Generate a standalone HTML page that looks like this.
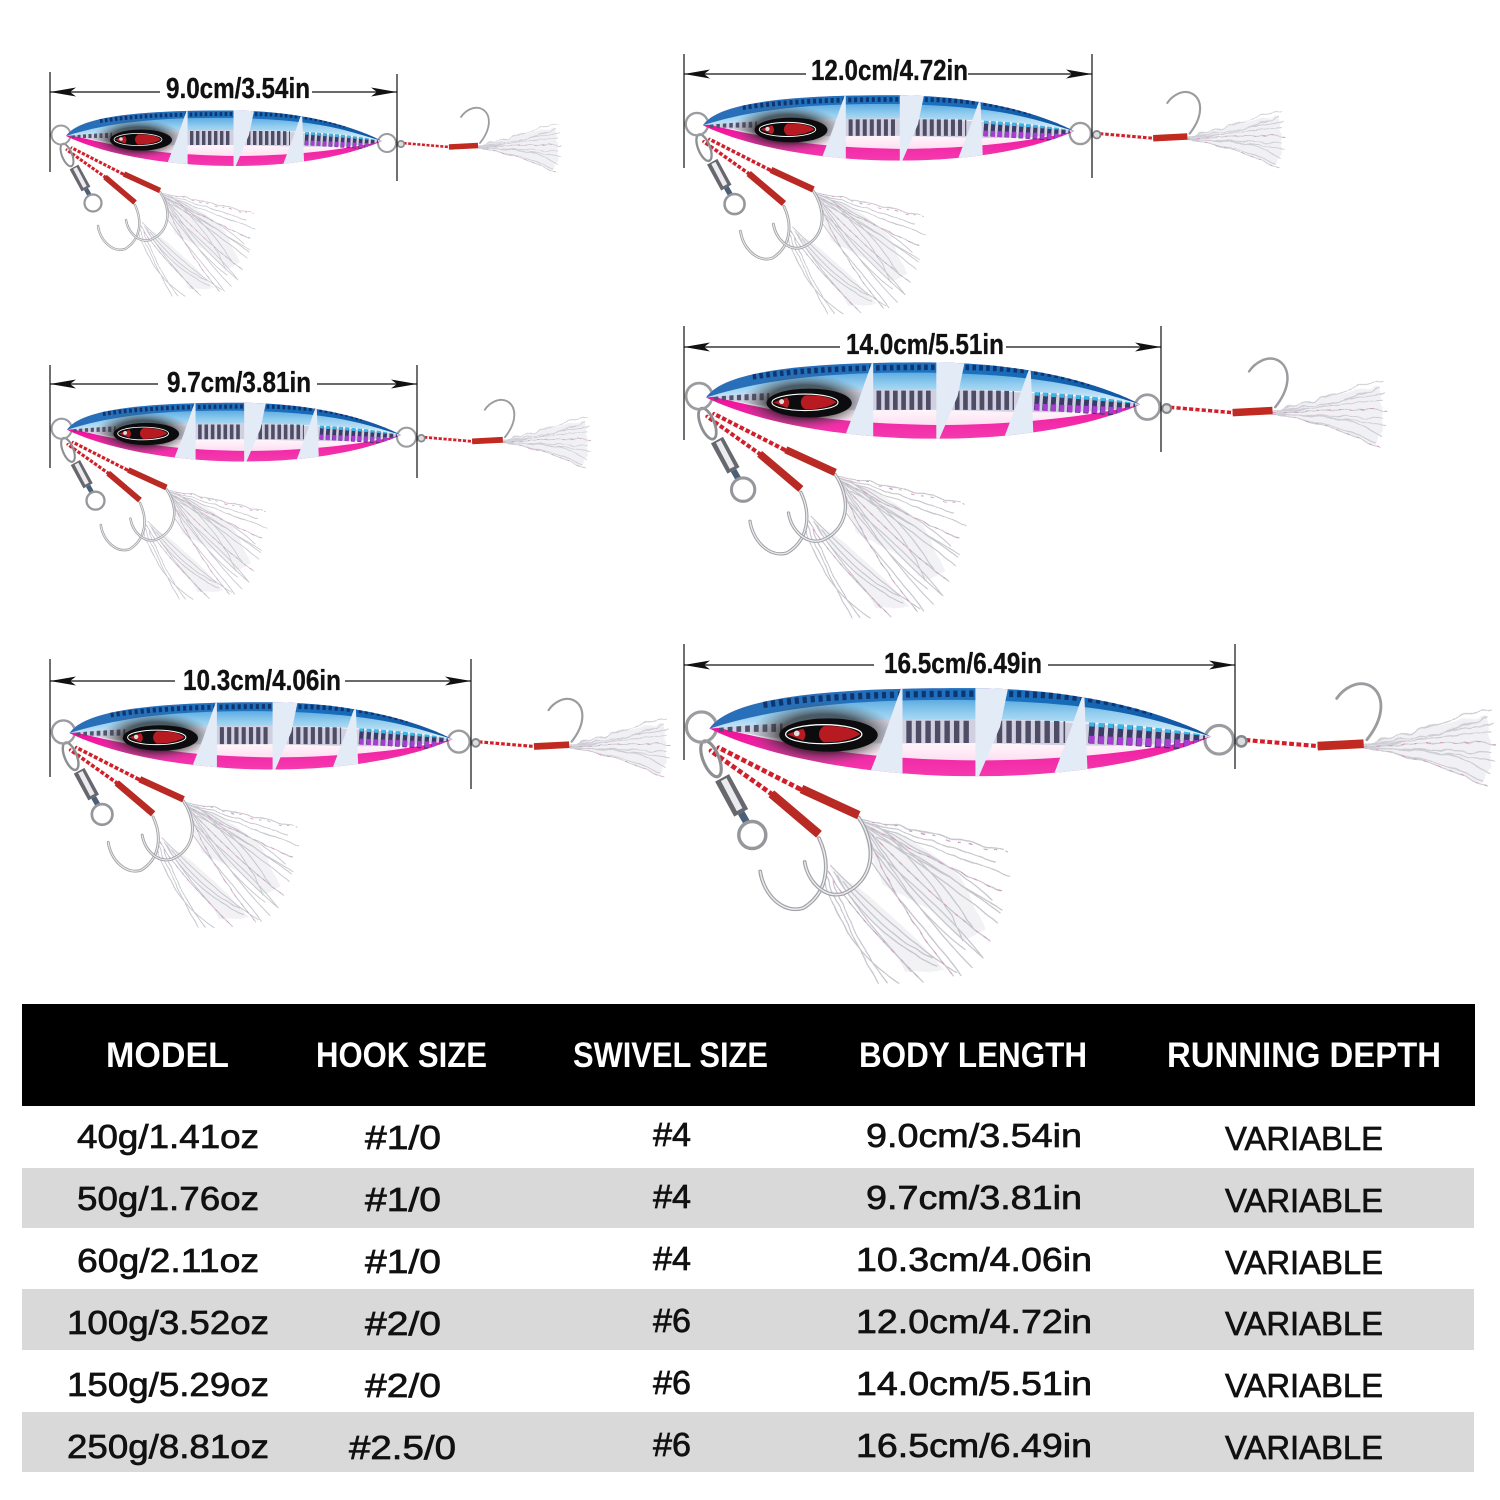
<!DOCTYPE html>
<html><head><meta charset="utf-8"><style>html,body{margin:0;padding:0;background:#fff}svg{display:block}</style></head><body>
<svg xmlns="http://www.w3.org/2000/svg" width="1500" height="1500" viewBox="0 0 1500 1500">
<defs>
<clipPath id="bc"><path d="M66,136C78,118 130,110 233,110.5C290,111 345,122 382,141C350,155 300,166 233,166C170,166 105,155 66,136Z"/></clipPath>
<linearGradient id="wh" x1="0" y1="0" x2="0" y2="1"><stop offset="0" stop-color="#e6e6f0"/><stop offset=".72" stop-color="#fff"/><stop offset="1" stop-color="#fde0f2"/></linearGradient>
<linearGradient id="pk" x1="0" y1="0" x2="0" y2="1"><stop offset="0" stop-color="#c9107e"/><stop offset=".45" stop-color="#ee129c"/><stop offset="1" stop-color="#f646b4"/></linearGradient>
<linearGradient id="lb" x1="0" y1="0" x2="0" y2="1"><stop offset="0" stop-color="#2f8fd6"/><stop offset=".5" stop-color="#8fcbee"/><stop offset="1" stop-color="#e2f2fb"/></linearGradient>
<linearGradient id="dk" x1="0" y1="0" x2="1" y2="0"><stop offset="0" stop-color="#2a6fb8"/><stop offset=".6" stop-color="#1a72c0"/><stop offset="1" stop-color="#0f55a0"/></linearGradient>
<radialGradient id="sm"><stop offset=".6" stop-color="#222" stop-opacity=".85"/><stop offset="1" stop-color="#666" stop-opacity="0"/></radialGradient>
<filter id="wv" x="-10%" y="-10%" width="120%" height="120%"><feTurbulence type="fractalNoise" baseFrequency=".09" numOctaves="2" seed="4" result="n"/><feDisplacementMap in="SourceGraphic" in2="n" scale="5"/></filter>
<g id="lure">
 <g fill="none" stroke-linecap="round">
  <!-- rear assist feathers -->
  <g filter="url(#wv)">
  <path d="M160,193L190,204 222,226 240,262 226,270 205,250 176,235 166,212Z" fill="#ededf1" stroke="none" opacity=".75"/>
  <path d="M142,224L165,240 196,268 214,288 190,290 172,262Z" fill="#ededf1" stroke="none" opacity=".7"/>
  <path d="M160,193C185,197 220,205 252,213M160,194C188,200 222,212 246,220M161,194C190,205 225,218 255,229M161,195C190,210 225,228 250,238M162,196C192,212 222,232 249,252M162,196C190,215 225,240 247,258M163,197C185,220 215,250 243,270M164,198C180,225 205,260 232,287M165,200C175,230 195,262 220,292M168,202C184,228 206,252 238,280M170,196C192,212 216,234 232,262M166,208C182,230 204,258 228,276M172,205C195,215 225,235 250,250M170,212C190,232 215,250 238,280M168,220C185,245 205,265 225,292M176,200C200,214 226,226 244,244M180,204C196,222 216,244 226,270M142,222C160,240 190,270 222,290M140,225C155,250 180,275 200,295M139,228C150,255 160,275 172,296M138,232C148,260 160,280 185,296M144,226C158,248 176,270 210,286M146,228C160,252 178,272 194,290M150,232C166,252 186,272 206,280M143,230C152,254 164,278 178,296" stroke="#c6c6cd" stroke-width=".8"/>
  <path d="M160,193C185,197 220,208 254,214M161,195C190,210 225,228 250,238M163,197C185,220 215,250 243,270M140,225C155,250 180,275 200,295M165,200C175,230 195,262 220,292" stroke="#d49fc4" stroke-width=".7" stroke-dasharray="2 6"/>
  </g>
  <!-- hooks -->
  <path d="M135,205C143,222 140,240 125,249C112,253 100,240 98,226" stroke="#a0a2a6" stroke-width="2.4"/>
  <path d="M135,205C143,222 140,240 125,249C112,253 100,240 98,226" stroke="#ececee" stroke-width=".9"/>
  <path d="M160,192C172,210 170,232 150,240C138,243 128,232 126,220" stroke="#a0a2a6" stroke-width="2.4"/>
  <path d="M160,192C172,210 170,232 150,240C138,243 128,232 126,220" stroke="#ececee" stroke-width=".9"/>
  <!-- braid -->
  <path d="M72,148L123,174M67,150L105,177" stroke="#d01f2a" stroke-width="3"/>
  <path d="M72,148L123,174M67,150L105,177" stroke="#fff" stroke-width="3" stroke-dasharray="1.6 3.2" stroke-linecap="butt"/>
  <!-- tubes -->
  <path d="M124,174L160,190.5M105,177L135,202.5" stroke="#b92a25" stroke-width="5.5" stroke-linecap="butt"/>
  <!-- swivel -->
  <ellipse cx="67" cy="155" rx="5" ry="12" transform="rotate(-22 67 155)" stroke="#8d8f93" stroke-width="2"/>
  <path d="M74,167L86,189" stroke="#66686e" stroke-width="10" stroke-linecap="butt"/>
  <path d="M75,168L85,187" stroke="#ececf0" stroke-width="4" stroke-linecap="butt"/>
  <path d="M86,189L90,196" stroke="#4a5f7a" stroke-width="4.5" stroke-linecap="butt"/>
  <circle cx="93" cy="203" r="8.5" stroke="#95979b" stroke-width="2.2"/>
  <circle cx="61" cy="135" r="9.5" stroke="#9a9ca0" stroke-width="2"/>
  <circle cx="387" cy="143" r="9" stroke="#9a9ca0" stroke-width="2"/>
 </g>
 <!-- body -->
 <g clip-path="url(#bc)">
  <rect x="60" y="105" width="330" height="70" fill="url(#pk)"/>
  <path d="M66,134C130,150 170,155 233,156C290,156 345,150 382,141L382,100L66,100Z" fill="url(#wh)"/>
  <path d="M70,135C120,129 180,129 233,130C290,131 345,135 382,141C345,150 290,146 233,145C180,145 120,148 70,135Z" fill="#d0d0e0"/>
  <path d="M72,134L112,134" stroke="#4e5470" stroke-width="8" stroke-dasharray="3 2.5" fill="none"/>
  <path d="M190,138L232,138M247,138L290,138" stroke="#4f4d66" stroke-width="14" stroke-dasharray="3.4 2.6" fill="none"/>
  <path d="M305,137L378,142" stroke="#3c3a66" stroke-width="16" stroke-dasharray="3.6 2.4" fill="none"/>
  <path d="M305,143L378,146" stroke="#a63ed0" stroke-width="5" stroke-dasharray="3.6 2.4" fill="none"/>
  <path d="M305,133L378,139" stroke="#39b6e6" stroke-width="3" stroke-dasharray="3.6 2.4" fill="none"/>
  <path d="M66,136C78,118 130,110 233,110.5C290,111 345,122 382,141C340,132 290,131 233,130C180,130 120,131 66,136Z" fill="url(#lb)"/>
  <path d="M66,136C78,118 130,110 233,110.5C290,111 345,122 382,141C345,130 320,120 233,118C160,117 110,122 66,136Z" fill="url(#dk)"/>
  <path d="M100,121C140,115 190,114 240,114C290,114 320,118 345,126" stroke="#0e356f" stroke-width="4" stroke-dasharray="2.6 2.4" fill="none"/>
  <ellipse cx="138" cy="139" rx="46" ry="20" fill="url(#sm)" opacity=".8"/>
  <path d="M187.6,108L187.6,170 167.8,162 176,141 184,118Z" fill="#e2ebf6"/>
  <path d="M233.5,108L254.6,108 249,135 234,170 233.5,170Z" fill="#e2ebf6"/>
  <path d="M302,112L304.4,170 281,170 293,138Z" fill="#e2ebf6"/>
 </g>
 <ellipse cx="141" cy="140" rx="31" ry="10.5" fill="#0c0c0e"/>
 <ellipse cx="138" cy="139.5" rx="24" ry="6" fill="#0c0c0e" stroke="#fff" stroke-width=".8"/>
 <path d="M138,134.5C150,134 157,136 161,139.5C155,143 148,144.6 138,144.6C134,142 134,137 138,134.5Z" fill="#b81a22"/>
 <path d="M115,139.5L125,136C127,139 127,141 125,143.5Z" fill="#b81a22"/>
 <circle cx="121" cy="139" r="1.8" fill="#ddd"/>
 <!-- tail -->
 <g fill="none" stroke-linecap="round">
  <g filter="url(#wv)">
  <path d="M478,147L520,134 556,128 558,160 552,170 518,156Z" fill="#efeff3" stroke="none" opacity=".85"/>
  <path d="M478,146C505,140 535,128 558,124M478,146C510,142 540,135 560,133M478,147C510,146 540,144 560,145M478,147C510,150 540,153 560,156M478,148C505,152 535,162 557,173M478,147C505,146 530,138 556,129M478,148C510,150 535,148 558,165M478,146C510,144 530,140 558,138M478,148C506,149 532,150 558,151M480,148C505,153 530,158 552,168" stroke="#cdcdd4" stroke-width=".8"/>
  <path d="M478,147C510,146 540,144 560,145M478,148C505,152 535,162 557,173" stroke="#d49fc4" stroke-width=".7" stroke-dasharray="2 6"/>
  </g>
  <path d="M480,143C492,128 491,114 482,109C474,105 465,111 461,117" stroke="#9a9ca0" stroke-width="1.8"/>
  <path d="M402,143L449,147" stroke="#d01f2a" stroke-width="2.6"/>
  <path d="M402,143L449,147" stroke="#fff" stroke-width="2.6" stroke-dasharray="1.6 3" stroke-linecap="butt"/>
  <circle cx="401" cy="144" r="3.2" stroke="#85878c" stroke-width="1.6" fill="#ddd"/>
  <path d="M449,147L478,145.5" stroke="#c12a20" stroke-width="5.5" stroke-linecap="butt"/>
 </g>
</g>
<g id="ah"><path d="M0,0L26,-4.5 20,0 26,4.5Z" fill="#111"/></g>
</defs>
<rect width="1500" height="1500" fill="#fff"/>

<!-- lures -->
<use href="#lure" transform="translate(50,140) scale(1) translate(-50,-140)"/>
<use href="#lure" transform="translate(684,130) scale(1.176) translate(-50,-140)"/>
<use href="#lure" transform="translate(50,434) scale(1.058) translate(-50,-140)"/>
<use href="#lure" transform="translate(684,403) scale(1.375) translate(-50,-140)"/>
<use href="#lure" transform="translate(50,738) scale(1.213) translate(-50,-140)"/>
<use href="#lure" transform="translate(684,735) scale(1.588) translate(-50,-140)"/>

<!-- dimensions -->
<g stroke="#111" stroke-width="1.2" fill="none">
<path d="M50,72V172M397,74V181M50,92H160M312,92H397"/>
<path d="M684,54V168M1092,54V178M684,74H806M968,74H1092"/>
<path d="M50,365V468M417,365V478M50,384H158M317,384H417"/>
<path d="M684,326V440M1161,326V452M684,347H840M1006,347H1161"/>
<path d="M50,659V777M471,659V789M50,681H175M345,681H471"/>
<path d="M684,644V760M1235,644V769M684,665H874M1048,665H1235"/>
</g>
<use href="#ah" x="50" y="92"/><use href="#ah" transform="translate(397,92) scale(-1,1)"/>
<use href="#ah" x="684" y="74"/><use href="#ah" transform="translate(1092,74) scale(-1,1)"/>
<use href="#ah" x="50" y="384"/><use href="#ah" transform="translate(417,384) scale(-1,1)"/>
<use href="#ah" x="684" y="347"/><use href="#ah" transform="translate(1161,347) scale(-1,1)"/>
<use href="#ah" x="50" y="681"/><use href="#ah" transform="translate(471,681) scale(-1,1)"/>
<use href="#ah" x="684" y="665"/><use href="#ah" transform="translate(1235,665) scale(-1,1)"/>
<g font-family="'Liberation Sans',sans-serif" font-weight="bold" font-size="29" fill="#111" stroke="#111" stroke-width=".35">
<text x="166" y="98" textLength="144" lengthAdjust="spacingAndGlyphs">9.0cm/3.54in</text>
<text x="811" y="80" textLength="157" lengthAdjust="spacingAndGlyphs">12.0cm/4.72in</text>
<text x="167" y="392" textLength="144" lengthAdjust="spacingAndGlyphs">9.7cm/3.81in</text>
<text x="846" y="354" textLength="158" lengthAdjust="spacingAndGlyphs">14.0cm/5.51in</text>
<text x="183" y="690" textLength="158" lengthAdjust="spacingAndGlyphs">10.3cm/4.06in</text>
<text x="884" y="673" textLength="158" lengthAdjust="spacingAndGlyphs">16.5cm/6.49in</text>
</g>

<!-- table -->
<rect x="22" y="1004" width="1453" height="102" fill="#000"/>
<rect x="22" y="1168" width="1452" height="60" fill="#d9d9d9"/>
<rect x="22" y="1289" width="1452" height="61" fill="#d9d9d9"/>
<rect x="22" y="1412" width="1452" height="60" fill="#d9d9d9"/>
<g font-family="'Liberation Sans',sans-serif" font-weight="bold" font-size="35" fill="#fff">
<text x="106" y="1067" textLength="123" lengthAdjust="spacingAndGlyphs">MODEL</text>
<text x="316" y="1067" textLength="171" lengthAdjust="spacingAndGlyphs">HOOK SIZE</text>
<text x="573" y="1067" textLength="195" lengthAdjust="spacingAndGlyphs">SWIVEL SIZE</text>
<text x="859" y="1067" textLength="228" lengthAdjust="spacingAndGlyphs">BODY LENGTH</text>
<text x="1167" y="1067" textLength="274" lengthAdjust="spacingAndGlyphs">RUNNING DEPTH</text>
</g>
<g font-family="'Liberation Sans',sans-serif" font-size="33" fill="#111" stroke="#111" stroke-width=".7">
<text x="77" y="1148" textLength="182" lengthAdjust="spacingAndGlyphs">40g/1.41oz</text>
<text x="77" y="1210" textLength="182" lengthAdjust="spacingAndGlyphs">50g/1.76oz</text>
<text x="77" y="1272" textLength="182" lengthAdjust="spacingAndGlyphs">60g/2.11oz</text>
<text x="67" y="1334" textLength="202" lengthAdjust="spacingAndGlyphs">100g/3.52oz</text>
<text x="67" y="1396" textLength="202" lengthAdjust="spacingAndGlyphs">150g/5.29oz</text>
<text x="67" y="1458" textLength="202" lengthAdjust="spacingAndGlyphs">250g/8.81oz</text>

<text x="365" y="1149" textLength="76" lengthAdjust="spacingAndGlyphs">#1/0</text>
<text x="365" y="1211" textLength="76" lengthAdjust="spacingAndGlyphs">#1/0</text>
<text x="365" y="1273" textLength="76" lengthAdjust="spacingAndGlyphs">#1/0</text>
<text x="365" y="1335" textLength="76" lengthAdjust="spacingAndGlyphs">#2/0</text>
<text x="365" y="1397" textLength="76" lengthAdjust="spacingAndGlyphs">#2/0</text>
<text x="349" y="1459" textLength="107" lengthAdjust="spacingAndGlyphs">#2.5/0</text>

<text x="653" y="1146" textLength="38" lengthAdjust="spacingAndGlyphs">#4</text>
<text x="653" y="1208" textLength="38" lengthAdjust="spacingAndGlyphs">#4</text>
<text x="653" y="1270" textLength="38" lengthAdjust="spacingAndGlyphs">#4</text>
<text x="653" y="1332" textLength="38" lengthAdjust="spacingAndGlyphs">#6</text>
<text x="653" y="1394" textLength="38" lengthAdjust="spacingAndGlyphs">#6</text>
<text x="653" y="1456" textLength="38" lengthAdjust="spacingAndGlyphs">#6</text>

<text x="866" y="1147" textLength="216" lengthAdjust="spacingAndGlyphs">9.0cm/3.54in</text>
<text x="866" y="1209" textLength="216" lengthAdjust="spacingAndGlyphs">9.7cm/3.81in</text>
<text x="856" y="1271" textLength="236" lengthAdjust="spacingAndGlyphs">10.3cm/4.06in</text>
<text x="856" y="1333" textLength="236" lengthAdjust="spacingAndGlyphs">12.0cm/4.72in</text>
<text x="856" y="1395" textLength="236" lengthAdjust="spacingAndGlyphs">14.0cm/5.51in</text>
<text x="856" y="1457" textLength="236" lengthAdjust="spacingAndGlyphs">16.5cm/6.49in</text>

<text x="1225" y="1150" textLength="158" lengthAdjust="spacingAndGlyphs">VARIABLE</text>
<text x="1225" y="1212" textLength="158" lengthAdjust="spacingAndGlyphs">VARIABLE</text>
<text x="1225" y="1274" textLength="158" lengthAdjust="spacingAndGlyphs">VARIABLE</text>
<text x="1225" y="1335" textLength="158" lengthAdjust="spacingAndGlyphs">VARIABLE</text>
<text x="1225" y="1397" textLength="158" lengthAdjust="spacingAndGlyphs">VARIABLE</text>
<text x="1225" y="1459" textLength="158" lengthAdjust="spacingAndGlyphs">VARIABLE</text>
</g>
</svg>
</body></html>
